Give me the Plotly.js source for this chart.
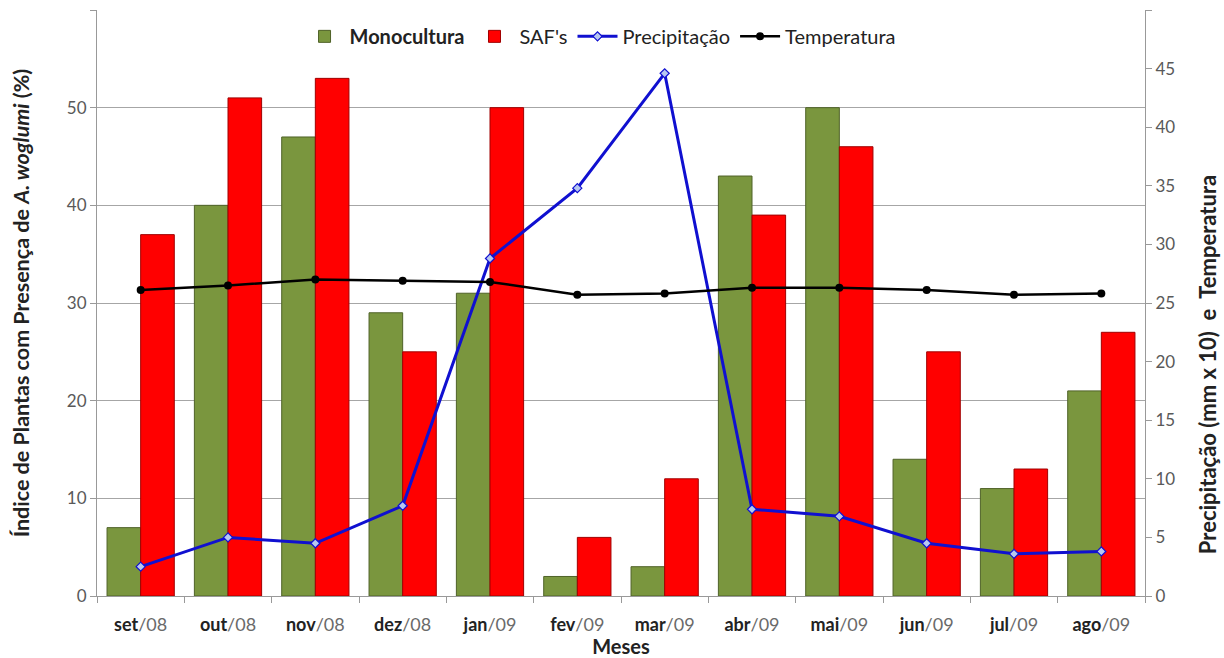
<!DOCTYPE html>
<html>
<head>
<meta charset="utf-8">
<script src="https://cdn.plot.ly/plotly-3.0.1.min.js"></script>
<style>html,body{margin:0;padding:0;background:#fff;}#chart{width:1224px;height:658px;}</style>
</head>
<body>
<div id="chart"></div>
<script>
const months = ["set", "out", "nov", "dez", "jan", "fev", "mar", "abr", "mai", "jun", "jul", "ago"];
const years = ["08", "08", "08", "08", "09", "09", "09", "09", "09", "09", "09", "09"];
const categories = ["set/08", "out/08", "nov/08", "dez/08", "jan/09", "fev/09", "mar/09", "abr/09", "mai/09", "jun/09", "jul/09", "ago/09"];
const monocultura = [7, 40, 47, 29, 31, 2, 3, 43, 50, 14, 11, 21];
const safs = [37, 51, 53, 25, 50, 6, 12, 39, 46, 25, 13, 27];
const precipitacao = [2.5, 5.0, 4.5, 7.7, 28.8, 34.8, 44.6, 7.4, 6.8, 4.5, 3.6, 3.8];
const temperatura = [26.1, 26.5, 27.0, 26.9, 26.8, 25.7, 25.8, 26.3, 26.3, 26.1, 25.7, 25.8];
const leftTicks = [0, 10, 20, 30, 40, 50, 60];
const rightTicks = [0, 5, 10, 15, 20, 25, 30, 35, 40, 45, 50];

const tickText = months.map((m, i) => "<b>" + m + "</b><span style='color:#6a6a6a'>/" + years[i] + "</span>");

const traces = [
  {
    type: "bar", name: "<b>Monocultura</b>", x: categories, y: monocultura,
    marker: {color: "#7A963E", line: {color: "#4F6228", width: 1}}
  },
  {
    type: "bar", name: "SAF's", x: categories, y: safs,
    marker: {color: "#FF0000", line: {color: "#A00000", width: 1}}
  },
  {
    type: "scatter", mode: "lines+markers", name: "Precipitação", x: categories, y: precipitacao, yaxis: "y2",
    line: {color: "#1010D0", width: 3},
    marker: {symbol: "diamond", size: 7, color: "#B8C8F0", line: {color: "#1010D0", width: 1.2}}
  },
  {
    type: "scatter", mode: "lines+markers", name: "Temperatura", x: categories, y: temperatura, yaxis: "y2",
    line: {color: "#000000", width: 2.5},
    marker: {symbol: "circle", size: 8, color: "#000000"}
  }
];

const layout = {
  width: 1224, height: 658,
  margin: {l: 97, r: 79, t: 10, b: 62},
  paper_bgcolor: "#ffffff", plot_bgcolor: "#ffffff",
  font: {family: "Lato, 'Open Sans', sans-serif", color: "#222"},
  barmode: "group", bargap: 0.23, bargroupgap: 0,
  showlegend: true,
  legend: {
    orientation: "h", x: 0.48, xanchor: "center", y: 0.955, yanchor: "middle",
    font: {size: 20, color: "#222"}, bgcolor: "rgba(255,255,255,0.9)",
    traceorder: "normal", itemwidth: 40
  },
  xaxis: {
    type: "category", range: [-0.5, 11.5], tickmode: "array", tickvals: categories, ticktext: tickText,
    tickfont: {size: 18, color: "#222"}, ticks: "outside", ticklen: 6, tickcolor: "#999",
    ticklabelstandoff: 12,
    tickson: "boundaries", showline: true, linecolor: "#999", linewidth: 1,
    showgrid: false, zeroline: false, automargin: false,
    title: {text: "<b>Meses</b>", font: {size: 20, color: "#222"}, standoff: 6}
  },
  yaxis: {
    range: [0, 60], tickmode: "array", tickvals: leftTicks,
    tickfont: {size: 17, color: "#595959"}, ticks: "outside", ticklen: 6, tickcolor: "#999",
    showline: true, linecolor: "#999", linewidth: 1, automargin: false,
    showgrid: true, gridcolor: "#A6A6A6", gridwidth: 1, zeroline: false,
    title: {text: "<b>Índice de Plantas com Presença de <i>A. woglumi</i> (%)</b>", font: {size: 21.5, color: "#222"}, standoff: 31}
  },
  yaxis2: {
    overlaying: "y", side: "right", range: [0, 50], tickmode: "array", tickvals: rightTicks,
    tickfont: {size: 17, color: "#595959"}, ticks: "outside", ticklen: 6, tickcolor: "#999",
    showline: true, linecolor: "#999", linewidth: 1, automargin: false,
    showgrid: false, zeroline: false
  },
  annotations: [
    {
      text: "<b>Precipitação (mm x 10)  e  Temperatura</b>", textangle: -90,
      xref: "paper", yref: "paper", x: 1.0592, y: 0.394, xanchor: "center", yanchor: "middle",
      showarrow: false, font: {size: 22, color: "#222"}
    }
  ]
};

Plotly.newPlot("chart", traces, layout, {displayModeBar: false, responsive: false});
</script>
</body>
</html>
